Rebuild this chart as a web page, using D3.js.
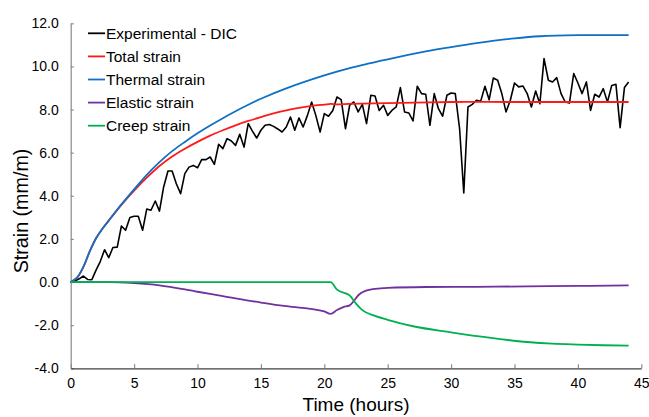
<!DOCTYPE html>
<html>
<head>
<meta charset="utf-8">
<script src="https://cdn.jsdelivr.net/npm/d3@7"></script>
<style>
  html, body { margin: 0; padding: 0; background: #fff; }
  svg { display: block; font-family: "Liberation Sans", Arial, sans-serif; }
</style>
</head>
<body>
<svg id="chart" width="649" height="417"></svg>
<script>
// ---------- data ----------
const xTicks = [0, 5, 10, 15, 20, 25, 30, 35, 40, 45];
const xTickLabels = ["0", "5", "10", "15", "20", "25", "30", "35", "40", "45"];
const yTicks = [-4, -2, 0, 2, 4, 6, 8, 10, 12];
const yTickLabels = ["-4.0", "-2.0", "0.0", "2.0", "4.0", "6.0", "8.0", "10.0", "12.0"];

const seriesNames = ["Experimental - DIC", "Total strain", "Thermal strain", "Elastic strain", "Creep strain"];

const expTime = [0,0.33,0.67,1,1.33,1.67,2,2.33,2.67,3,3.33,3.67,4,4.33,4.67,5,5.33,5.67,6,6.33,6.67,7,7.33,7.67,8,8.33,8.67,9,9.33,9.67,10,10.33,10.67,11,11.33,11.67,12,12.33,12.67,13,13.33,13.67,14,14.33,14.67,15,15.33,15.67,16,16.33,16.67,17,17.33,17.67,18,18.33,18.67,19,19.33,19.67,20,20.33,20.67,21,21.33,21.67,22,22.33,22.67,23,23.33,23.67,24,24.33,24.67,25,25.33,25.67,26,26.33,26.67,27,27.33,27.67,28,28.33,28.67,29,29.33,29.67,30,30.33,30.67,31,31.33,31.67,32,32.33,32.67,33,33.33,33.67,34,34.33,34.67,35,35.33,35.67,36,36.33,36.67,37,37.33,37.67,38,38.33,38.67,39,39.33,39.67,40,40.33,40.67,41,41.33,41.67,42,42.33,42.67,43,43.33,43.67,44];
const expStrain = [0,0.05,0.15,0.28,0.12,0.11,0.55,0.95,1.5,1.13,1.6,1.62,2.6,2.4,2.99,3.05,3.05,2.4,3.39,3.33,3.76,3.29,4.41,5.15,5.15,4.56,4.1,5.03,5.33,5.41,5.3,5.68,5.68,5.8,5.46,6.39,6.19,6.65,6.54,6.34,6.85,6.26,7.35,7.0,6.68,7.04,7.27,7.31,7.22,7.1,6.96,7.19,7.65,7.04,7.61,7.19,7.73,8.35,7.73,6.96,7.81,7.69,7.96,8.58,8.46,7.11,8.2,8.35,7.89,8.24,7.35,8.66,8.63,7.96,8.2,7.73,7.96,8.12,9.02,7.89,7.84,7.47,9.08,8.74,8.71,7.27,8.74,8.04,7.69,8.66,8.77,8.74,7.11,4.13,8.12,8.24,8.43,8.38,9.08,8.45,9.46,9.36,8.74,7.89,8.43,9.23,9.05,9.09,8.74,8.12,8.86,8.27,10.36,9.36,9.28,9.48,8.74,8.35,8.3,9.67,9.23,8.74,9.28,7.96,8.71,8.58,8.97,8.35,9.12,9.17,7.16,9.02,9.28];

const totalTime   = [0,0.5,1,1.5,2,2.5,3,4,5,6,7,8,9,10,11,12,13,14,15,16,17,18,19,20,20.5,21,22,25,30,35,40,44];
const totalStrain = [0,0.2,0.7,1.42,2.03,2.47,2.85,3.58,4.24,4.84,5.38,5.82,6.18,6.5,6.79,7.04,7.27,7.47,7.65,7.82,7.96,8.08,8.17,8.23,8.26,8.24,8.26,8.3,8.35,8.35,8.35,8.35];

const thermalTime   = [0,0.5,1,1.5,2,2.5,3,4,5,6,7,8,9,10,11,12,13,14,15,17,20,22,25,28,30,32,35,37,40,44];
const thermalStrain = [0,0.2,0.7,1.42,2.03,2.47,2.85,3.6,4.3,4.97,5.56,6.07,6.5,6.9,7.26,7.6,7.92,8.22,8.5,8.98,9.58,9.92,10.33,10.7,10.9,11.08,11.3,11.4,11.45,11.45];

const elasticTime   = [0,3,5,7,10,12,15,17,20,20.5,21,21.5,22,22.3,22.7,23.3,24,25,28,32,36,40,44];
const elasticStrain = [0,0,-0.05,-0.15,-0.45,-0.65,-0.95,-1.12,-1.36,-1.48,-1.3,-1.16,-1.08,-0.9,-0.6,-0.4,-0.32,-0.27,-0.23,-0.22,-0.2,-0.18,-0.15];

const creepTime   = [0,5,10,15,20,20.5,21,22,22.5,23,24,25,27,30,33,36,38,40,42,44];
const creepStrain = [0,0,0,0,0,0,-0.35,-0.62,-1.0,-1.3,-1.57,-1.75,-2.05,-2.33,-2.58,-2.78,-2.86,-2.9,-2.93,-2.95];

// ---------- layout ----------
const svg = d3.select("#chart");
const x = d3.scaleLinear().domain([0, 45]).range([70.7, 641.3]);
const y = d3.scaleLinear().domain([-4, 12]).range([368.3, 23.3]);

const colors = ["#000000", "#ff1a1a", "#0f70c4", "#7030a0", "#00b050"];

// y axis
const yAxis = d3.axisLeft(y).tickValues(yTicks)
  .tickFormat((d, i) => yTickLabels[i]).tickSizeInner(-3).tickSizeOuter(0).tickPadding(12);
const gy = svg.append("g").attr("transform", `translate(${x(0)},0)`).call(yAxis);
gy.select(".domain").attr("stroke", "#8a8a8a").attr("stroke-width", 1.2);
gy.selectAll(".tick line").attr("stroke", "#8a8a8a").attr("stroke-width", 1.2);
gy.selectAll(".tick text").attr("font-size", 14).attr("fill", "#000")
  .attr("font-family", "Liberation Sans, Arial, sans-serif");

// x axis
const xAxis = d3.axisBottom(x).tickValues(xTicks)
  .tickFormat((d, i) => xTickLabels[i]).tickSizeInner(-4).tickSizeOuter(0).tickPadding(10);
const gx = svg.append("g").attr("transform", `translate(0,${y(-4)})`).call(xAxis);
gx.select(".domain").attr("stroke", "#404040").attr("stroke-width", 1.2);
gx.selectAll(".tick line").attr("stroke", "#8a8a8a").attr("stroke-width", 1.2);
gx.selectAll(".tick text").attr("font-size", 14).attr("fill", "#000")
  .attr("font-family", "Liberation Sans, Arial, sans-serif");

// titles
svg.append("text").attr("x", (x(0) + x(45)) / 2).attr("y", 411)
  .attr("text-anchor", "middle").attr("font-size", 19).text("Time (hours)");
svg.append("text").attr("transform", `translate(28,211) rotate(-90)`)
  .attr("text-anchor", "middle").attr("font-size", 19.7).text("Strain (mm/m)");

// lines
const lineLin = d3.line().x(d => x(d[0])).y(d => y(d[1]));
const lineCR = d3.line().x(d => x(d[0])).y(d => y(d[1])).curve(d3.curveCatmullRom.alpha(0.5));
const lineMono = d3.line().x(d => x(d[0])).y(d => y(d[1])).curve(d3.curveMonotoneX);
const zip = (a, b) => a.map((v, i) => [v, b[i]]);

const series = [
  { pts: zip(expTime, expStrain), gen: lineLin, w: 1.6 },
  { pts: zip(totalTime, totalStrain), gen: lineCR, w: 1.8 },
  { pts: zip(thermalTime, thermalStrain), gen: lineCR, w: 1.8 },
  { pts: zip(elasticTime, elasticStrain), gen: lineMono, w: 1.8 },
  { pts: zip(creepTime, creepStrain), gen: lineMono, w: 1.8 }
];
series.forEach((s, i) => {
  svg.append("path").attr("d", s.gen(s.pts)).attr("fill", "none")
    .attr("stroke", colors[i]).attr("stroke-width", s.w).attr("stroke-linejoin", "round");
});

// legend
const lg = svg.append("g");
seriesNames.forEach((name, i) => {
  const cy = 33.3 + i * 23.1;
  lg.append("line").attr("x1", 88).attr("x2", 105).attr("y1", cy).attr("y2", cy)
    .attr("stroke", colors[i]).attr("stroke-width", 1.8);
  lg.append("text").attr("x", 106).attr("y", cy + 5.5).attr("font-size", 15.5).text(name);
});
</script>
</body>
</html>
